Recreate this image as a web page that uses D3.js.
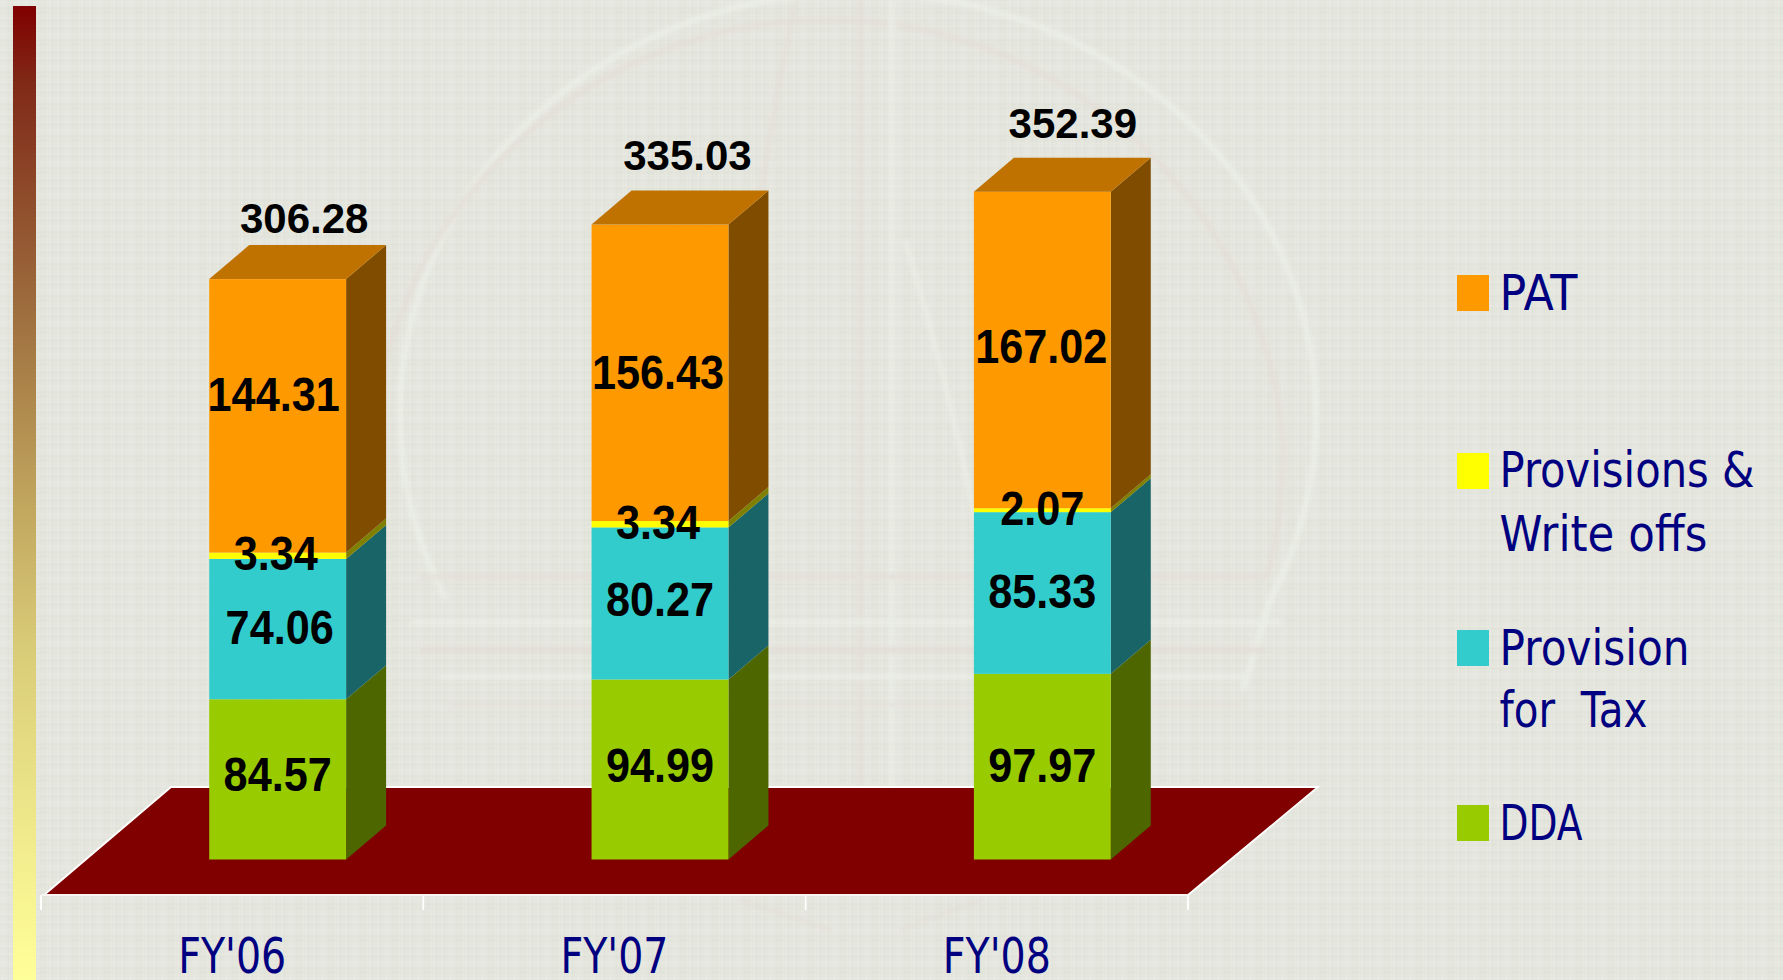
<!DOCTYPE html>
<html><head><meta charset="utf-8">
<style>html,body{margin:0;padding:0;background:#e5e6dd;overflow:hidden}svg{display:block}</style>
<script src="https://cdn.jsdelivr.net/npm/d3@7"></script>
</head><body><svg id="c" width="1783" height="980"></svg>
<script>
// ---- data ----
const categories = ["FY'06", "FY'07", "FY'08"];
const seriesNames = ["DDA", "Provision for Tax", "Provisions & Write offs", "PAT"];
const dda = [84.57, 94.99, 97.97];
const tax = [74.06, 80.27, 85.33];
const provisions = [3.34, 3.34, 2.07];
const pat = [144.31, 156.43, 167.02];
const totals = [306.28, 335.03, 352.39];
const frontColors = ["#99cc00", "#33cccc", "#ffff00", "#ff9900"];
const sideColors = ["#4d6600", "#196466", "#808000", "#804c00"];
const topColor = "#c07200";
// label offsets, per series then per category (px)
const labelDy = [[12, 13, 15], [15, 13, 15.5], [14, 15, 15], [-4.6, 16, 13.5]];
const labelDx = [[0, 0, 0], [2, 0, 0], [-2, -2, 0], [-4, -2, -1]];
const totalDx = [26.5, 27.5, 30.5];
const totalDy = [-46, -55, -54];
const legendEntries = [
  {color: "#ff9900", top: 275, lines: [["PAT", 309.5, 78]]},
  {color: "#ffff00", top: 453, lines: [["Provisions &", 487, 255], ["Write offs", 550.5, 208]]},
  {color: "#33cccc", top: 630, lines: [["Provision", 665, 190], ["for  Tax", 727, 148]]},
  {color: "#99cc00", top: 805, lines: [["DDA", 840, 83]]}
];

// ---- layout ----
const svg = d3.select("#c");
const W = 1783, H = 980;
const baseY = 859.5, depthX = 40, depthY = 34, shiftX = 45.5;
const axisY = 895, backY = 787;
const x = d3.scaleBand().domain(categories).range([41, 1188]).paddingInner(0.642).paddingOuter(0.321);
const y = d3.scaleLinear().domain([0, 400]).range([baseY, baseY - 758]);

// ---- background texture ----
const defs = svg.append("defs");
const pat1 = defs.append("pattern").attr("id", "fine").attr("width", 4).attr("height", 4).attr("patternUnits", "userSpaceOnUse");
pat1.append("rect").attr("width", 4).attr("height", 4).attr("fill", "#e4e5dc");
pat1.append("rect").attr("width", 1).attr("height", 4).attr("fill", "#e0e1d8");
pat1.append("rect").attr("width", 4).attr("height", 1).attr("fill", "#e0e1d8");
const pat2 = defs.append("pattern").attr("id", "plaid").attr("width", 32).attr("height", 32).attr("patternUnits", "userSpaceOnUse");
[[0, 6], [15, 4], [24, 3]].forEach(([p, w]) => {
  pat2.append("rect").attr("x", p).attr("width", w).attr("height", 32).attr("fill", "#fff").attr("opacity", 0.09);
  pat2.append("rect").attr("y", p).attr("height", w).attr("width", 32).attr("fill", "#fff").attr("opacity", 0.09);
});
defs.append("filter").attr("id", "soft").attr("x", "-5%").attr("y", "-5%").attr("width", "110%").attr("height", "110%")
  .append("feGaussianBlur").attr("stdDeviation", 2);
const grad = defs.append("linearGradient").attr("id", "side").attr("x1", 0).attr("x2", 0).attr("y1", 0).attr("y2", 1);
[[0, "#800000"], [0.08, "#802a18"], [0.3, "#9c6a3c"], [0.5, "#bfa35c"], [0.66, "#d9cc78"], [0.85, "#f0ea8c"], [1, "#ffff99"]]
  .forEach(([o, c]) => grad.append("stop").attr("offset", o).attr("stop-color", c));

svg.append("rect").attr("width", W).attr("height", H).attr("fill", "url(#fine)");
svg.append("rect").attr("width", W).attr("height", H).attr("fill", "url(#plaid)");

// ---- faint watermark ----
const wm = svg.append("g").attr("fill", "none").attr("filter", "url(#soft)").attr("opacity", 0.6);
const light = "#eef3ea", pink = "#e3dbd5";
[
  ["M446,600 A458,423 0 1 1 1270,600 L1243,690", light, 7],
  ["M372,520 A457,460 0 0 1 1283,440 Q1283,530 1265,580", pink, 5],
  ["M796,0 Q770,120 745,300 T700,640", pink, 4],
  ["M860,0 L860,820", pink, 5],
  ["M892,0 L892,820", light, 6],
  ["M905,240 Q960,420 990,600", light, 5],
  ["M420,577 H1265", pink, 5],
  ["M410,622 H1282", light, 6],
  ["M420,650 H1265", pink, 6],
  ["M440,677 H1243", light, 5],
  ["M450,705 H1240", pink, 3],
  ["M740,900 L830,930", pink, 3],
  ["M980,900 L900,930", pink, 3]
].forEach(([d, c, w]) => wm.append("path").attr("d", d).attr("stroke", c).attr("stroke-width", w));

// ---- left gradient strip ----
svg.append("rect").attr("x", 13).attr("y", 6).attr("width", 23).attr("height", H - 6).attr("fill", "url(#side)");

// ---- floor ----
svg.append("polygon")
  .attr("points", [[x.range()[0] + 3, axisY], [171, backY], [1318, backY], [x.range()[1], axisY]].join(" "))
  .attr("fill", "#800000").attr("stroke", "#fff").attr("stroke-width", 1.8);

// ---- axis ----
const axis = svg.append("g").attr("transform", `translate(0,${axisY})`)
  .call(d3.axisBottom(x).tickSize(0));
axis.select(".domain").remove();
axis.selectAll("text").attr("fill", "#000080").attr("font-family", "'DejaVu Sans'").attr("font-size", 50)
  .attr("dy", 0).attr("y", 78).each(function () {
    d3.select(this).attr("lengthAdjust", "spacingAndGlyphs").attr("textLength", this.getComputedTextLength() * 0.79);
  });
const tickPositions = d3.range(categories.length + 1).map(i => x.range()[0] + i * x.step());
svg.append("g").selectAll("line").data(tickPositions).join("line")
  .attr("x1", d => d).attr("x2", d => d).attr("y1", axisY).attr("y2", axisY + 15)
  .attr("stroke", "#fff").attr("stroke-width", 1.8);
svg.append("line").attr("x1", x.range()[0]).attr("x2", x.range()[1]).attr("y1", axisY).attr("y2", axisY)
  .attr("stroke", "#f6f0ee").attr("stroke-width", 1.6);

// ---- stacked 3-D bars ----
const rows = categories.map((c, i) => ({cat: c, s0: dda[i], s1: tax[i], s2: provisions[i], s3: pat[i]}));
const stack = d3.stack().keys(["s0", "s1", "s2", "s3"])(rows);
const bw = x.bandwidth();
const barLeft = c => x(c) + shiftX;
const bars = svg.append("g");
stack.forEach((layer, si) => {
  const g = bars.append("g").attr("data-series", seriesNames[si]);
  layer.forEach((d, ci) => {
    const c = d.data.cat, l = barLeft(c), r = l + bw, y0 = y(d[0]), y1 = y(d[1]);
    g.append("polygon").attr("fill", sideColors[si])
      .attr("points", [[r, y0], [r + depthX, y0 - depthY], [r + depthX, y1 - depthY], [r, y1]].join(" "));
    g.append("rect").attr("x", l).attr("y", y1).attr("width", bw).attr("height", y0 - y1).attr("fill", frontColors[si]);
    if (si === stack.length - 1) {
      g.append("polygon").attr("fill", topColor)
        .attr("points", [[l, y1], [l + depthX, y1 - depthY], [r + depthX, y1 - depthY], [r, y1]].join(" "));
    }
  });
});

// ---- value labels ----
const labels = svg.append("g").attr("font-family", "'Liberation Sans'").attr("font-weight", 700)
  .attr("fill", "#000").attr("text-anchor", "middle");
stack.forEach((layer, si) => layer.forEach((d, ci) => {
  const cx = barLeft(d.data.cat) + bw / 2 + labelDx[si][ci];
  const t = labels.append("text").attr("x", cx).attr("y", y((d[0] + d[1]) / 2) + labelDy[si][ci])
    .attr("font-size", 48).text((d[1] - d[0]).toFixed(2));
  t.attr("lengthAdjust", "spacingAndGlyphs").attr("textLength", t.node().getComputedTextLength() * 0.9);
}));
totals.forEach((v, i) => {
  labels.append("text").attr("x", barLeft(categories[i]) + bw / 2 + totalDx[i])
    .attr("y", y(d3.sum(stack, l => l[i][1] - l[i][0])) + totalDy[i])
    .attr("font-size", 42).text(v.toFixed(2));
});

// ---- legend ----
const lg = svg.append("g");
legendEntries.forEach(e => {
  lg.append("rect").attr("x", 1457).attr("y", e.top).attr("width", 32).attr("height", 36).attr("fill", e.color);
  e.lines.forEach(([txt, by, w]) => {
    lg.append("text").attr("x", 1499.5).attr("y", by).attr("font-family", "'DejaVu Sans'").attr("font-size", 49)
      .attr("fill", "#000080").attr("textLength", w).attr("lengthAdjust", "spacingAndGlyphs")
      .style("white-space", "pre").text(txt);
  });
});
</script></body></html>
